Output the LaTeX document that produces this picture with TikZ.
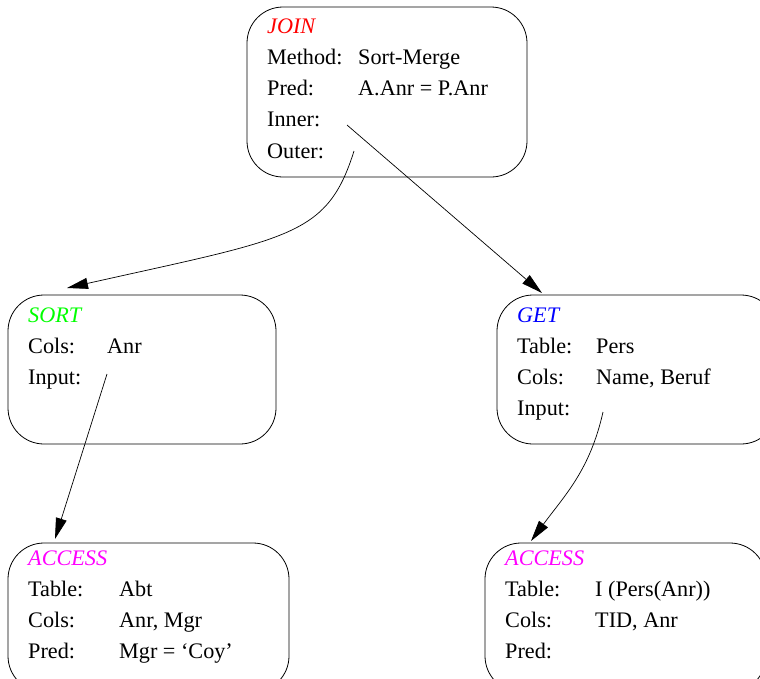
\documentclass[tikz,border=0pt]{standalone}
\usepackage{fontspec}
\setmainfont{Liberation Serif}
\usetikzlibrary{arrows.meta}
\definecolor{tred}{RGB}{255,0,0}
\definecolor{tgreen}{RGB}{0,255,0}
\definecolor{tblue}{RGB}{0,0,255}
\definecolor{tmag}{RGB}{255,0,255}
\begin{document}
\begin{tikzpicture}[x=1pt,y=-1pt,
  opbox/.style={draw, line width=0.8pt, rounded corners=36pt, inner sep=0pt},
  lbl/.style={anchor=base west, inner sep=0pt, font=\fontsize{22.2}{26}\selectfont},
  ttl/.style={lbl, font=\fontsize{22.2}{26}\selectfont\itshape},
  arr/.style={draw, line width=0.7pt, -{Triangle[length=21pt,width=11pt]}}]
\clip (0,0) rectangle (760,678);
% boxes
\node[opbox, minimum width=280pt, minimum height=170pt] (join) at (387,92) {};
\node[opbox, minimum width=268pt, minimum height=149pt] (sort) at (142,369.5) {};
\node[opbox, minimum width=280pt, minimum height=149pt] (get) at (637,369.5) {};
\node[opbox, minimum width=281pt, minimum height=149pt] (accA) at (148.5,617.5) {};
\node[opbox, minimum width=281pt, minimum height=149pt] (accB) at (625.5,617.5) {};
% JOIN
\node[ttl, text=tred] (jT) at (267,33) {JOIN};
\node[lbl] (jM) at (267,64) {Method:};
\node[lbl] (jMv) at (358,64) {Sort-Merge};
\node[lbl] (jP) at (267,95) {Pred:};
\node[lbl] (jPv) at (358,95) {A.Anr = P.Anr};
\node[lbl] (jI) at (267,126) {Inner:};
\node[lbl] (jO) at (267,158) {Outer:};
% SORT
\node[ttl, text=tgreen] (sT) at (28,322) {SORT};
\node[lbl] (sC) at (28,353) {Cols:};
\node[lbl] (sCv) at (107,353) {Anr};
\node[lbl] (sI) at (28,384) {Input:};
% GET
\node[ttl, text=tblue] (gT) at (517,322) {GET};
\node[lbl] (gTa) at (517,353) {Table:};
\node[lbl] (gTav) at (596,353) {Pers};
\node[lbl] (gC) at (517,384) {Cols:};
\node[lbl] (gCv) at (596,384) {Name, Beruf};
\node[lbl] (gI) at (517,415) {Input:};
% ACCESS left
\node[ttl, text=tmag] (aT) at (28,565) {ACCESS};
\node[lbl] (aTa) at (28,596) {Table:};
\node[lbl] (aTav) at (119,596) {Abt};
\node[lbl] (aC) at (28,627) {Cols:};
\node[lbl] (aCv) at (119,627) {Anr, Mgr};
\node[lbl] (aP) at (28,658) {Pred:};
\node[lbl] (aPv) at (119,658) {Mgr = ‘Coy’};
% ACCESS right
\node[ttl, text=tmag] (bT) at (505,565) {ACCESS};
\node[lbl] (bTa) at (505,596) {Table:};
\node[lbl] (bTav) at (595,596) {I (Pers(Anr))};
\node[lbl] (bC) at (505,627) {Cols:};
\node[lbl] (bCv) at (595,627) {TID, Anr};
\node[lbl] (bP) at (505,658) {Pred:};
% connector ends
\coordinate (jOutS) at (354,151);
\coordinate (jInS) at (347,125);
\coordinate (sInS) at (107,374);
\coordinate (gInS) at (603,412);
\coordinate (sortTop) at (67,288);
\coordinate (getTop) at (542,293);
\coordinate (accATop) at (55,539);
\coordinate (accBTop) at (531,541);
% connectors
\draw[arr] (jOutS) .. controls (327,237) and (290,238) .. (sortTop);
\draw[arr] (jInS) -- (getTop);
\draw[arr] (sInS) -- (accATop);
\draw[arr] (gInS) .. controls (590,470) and (565,495) .. (accBTop);
\end{tikzpicture}
\end{document}
